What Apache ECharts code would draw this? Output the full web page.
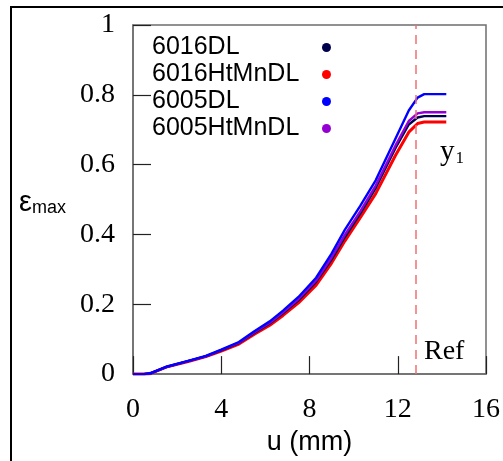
<!DOCTYPE html>
<html><head><meta charset="utf-8">
<script src="https://cdn.jsdelivr.net/npm/echarts@6/dist/echarts.min.js"></script>
<style>html,body{margin:0;padding:0;background:#fff}#c{width:503px;height:461px}</style>
</head><body><div id="c"></div>
<script>
const seriesNames = ['6016DL', '6016HtMnDL', '6005DL', '6005HtMnDL'];
const seriesColors = ['#00004d', '#ff0000', '#0000ff', '#9400d3'];
const xTicks = [0, 4, 8, 12, 16];
const yTicks = [0, 0.2, 0.4, 0.6, 0.8, 1];
const refU = 12.8;

const u = [0, 0.5, 0.8, 1.5, 2.5, 3.3, 4.0, 4.8, 5.5, 6.2, 6.8, 7.5, 8.3, 9.0, 9.6, 10.3, 11.0, 11.9, 12.5, 12.9, 13.2, 14.2];
const e6016DL      = [0, 0, 0.002, 0.02, 0.037, 0.051, 0.068, 0.089, 0.118, 0.145, 0.174, 0.211, 0.264, 0.328, 0.392, 0.46, 0.533, 0.648, 0.715, 0.735, 0.739, 0.739];
const e6016HtMnDL  = [0, 0, 0.002, 0.02, 0.036, 0.05, 0.066, 0.086, 0.114, 0.14, 0.168, 0.204, 0.255, 0.318, 0.381, 0.448, 0.517, 0.627, 0.693, 0.718, 0.722, 0.722];
const e6005DL      = [0, 0, 0.003, 0.021, 0.038, 0.052, 0.07, 0.092, 0.123, 0.151, 0.182, 0.221, 0.276, 0.345, 0.413, 0.482, 0.555, 0.675, 0.755, 0.792, 0.802, 0.802];
const e6005HtMnDL  = [0, 0, 0.002, 0.02, 0.037, 0.051, 0.069, 0.09, 0.12, 0.147, 0.177, 0.215, 0.268, 0.334, 0.399, 0.466, 0.54, 0.655, 0.725, 0.747, 0.75, 0.75];
const allValues = [e6016DL, e6016HtMnDL, e6005DL, e6005HtMnDL];

const chart = echarts.init(document.getElementById('c'));
const drawOrder = [1, 0, 3, 2];
const series = drawOrder.map(i => ({
  name: seriesNames[i],
  type: 'line',
  data: u.map((x, k) => [x, allValues[i][k]]),
  showSymbol: false,
  symbol: 'circle',
  smooth: false,
  lineStyle: { color: seriesColors[i], width: i === 1 ? 3 : 2.4, join: 'round' },
  itemStyle: { color: seriesColors[i] },
  z: 3,
  animation: false
}));
series.push({
  type: 'line', data: [], silent: true,
  markLine: {
    silent: true, symbol: 'none', animation: false,
    label: { show: false },
    lineStyle: { color: '#f07070', type: [9, 6], width: 1.5 },
    data: [{ xAxis: refU }]
  }
});

chart.setOption({
  animation: false,
  grid: { left: 133, top: 25, width: 355, height: 354, show: true, borderColor: '#6e6e6e', borderWidth: 1.5, backgroundColor: 'transparent' },
  legend: {
    data: seriesNames,
    orient: 'vertical', left: 147, top: 30, align: 'right',
    icon: 'circle', itemWidth: 9, itemHeight: 9, itemGap: 2,
    selectedMode: false,
    formatter: name => '{a|' + name + '}',
    textStyle: { color: '#000', rich: { a: { fontFamily: 'Liberation Sans', fontSize: 25, color: '#000', width: 165, align: 'left', lineHeight: 26 } } }
  },
  xAxis: {
    type: 'value', min: 0, max: 16, interval: 4,
    name: 'u (mm)', nameLocation: 'middle', nameGap: 50,
    nameTextStyle: { fontFamily: 'Liberation Sans', fontSize: 27, color: '#000' },
    axisLine: { show: true, lineStyle: { color: '#6e6e6e', width: 1.5 } },
    axisTick: { show: true, inside: true, length: 18, lineStyle: { color: '#222', width: 1.2 } },
    axisLabel: { margin: 22, fontFamily: 'Liberation Serif', fontSize: 28, color: '#000', formatter: v => xTicks.includes(v) ? String(v) : '' },
    splitLine: { show: false }
  },
  yAxis: {
    type: 'value', min: 0, max: 1, interval: 0.2,
    axisLine: { show: true, lineStyle: { color: '#6e6e6e', width: 1.5 } },
    axisTick: { show: true, inside: true, length: 18, lineStyle: { color: '#222', width: 1.2 } },
    axisLabel: { margin: 18, fontFamily: 'Liberation Serif', fontSize: 28, color: '#000',
      formatter: v => { const t = yTicks.find(y => Math.abs(y - v) < 1e-9); return t === undefined ? '' : String(t); } },
    splitLine: { show: false }
  },
  graphic: [
    { type: 'rect', shape: { x: 11, y: 7, width: 700, height: 700 }, style: { fill: 'none', stroke: '#000', lineWidth: 2 }, silent: true },
    { type: 'text', left: 19, top: 188, style: { rich: { e: { fontFamily: 'Liberation Sans', fontSize: 29, fill: '#000' }, s: { fontFamily: 'Liberation Sans', fontSize: 18, fill: '#000', padding: [12, 0, 0, 0] } }, text: '{e|ε}{s|max}' } },
    { type: 'text', left: 440, top: 138, style: { rich: { y: { fontFamily: 'Liberation Serif', fontSize: 29, fill: '#000' }, s: { fontFamily: 'Liberation Serif', fontSize: 17, fill: '#000', padding: [12, 0, 0, 1] } }, text: '{y|y}{s|1}' } },
    { type: 'text', left: 424, top: 338, style: { text: 'Ref', fontFamily: 'Liberation Serif', fontSize: 28, fill: '#000' } }
  ],
  series: series
});
</script>
</body></html>
